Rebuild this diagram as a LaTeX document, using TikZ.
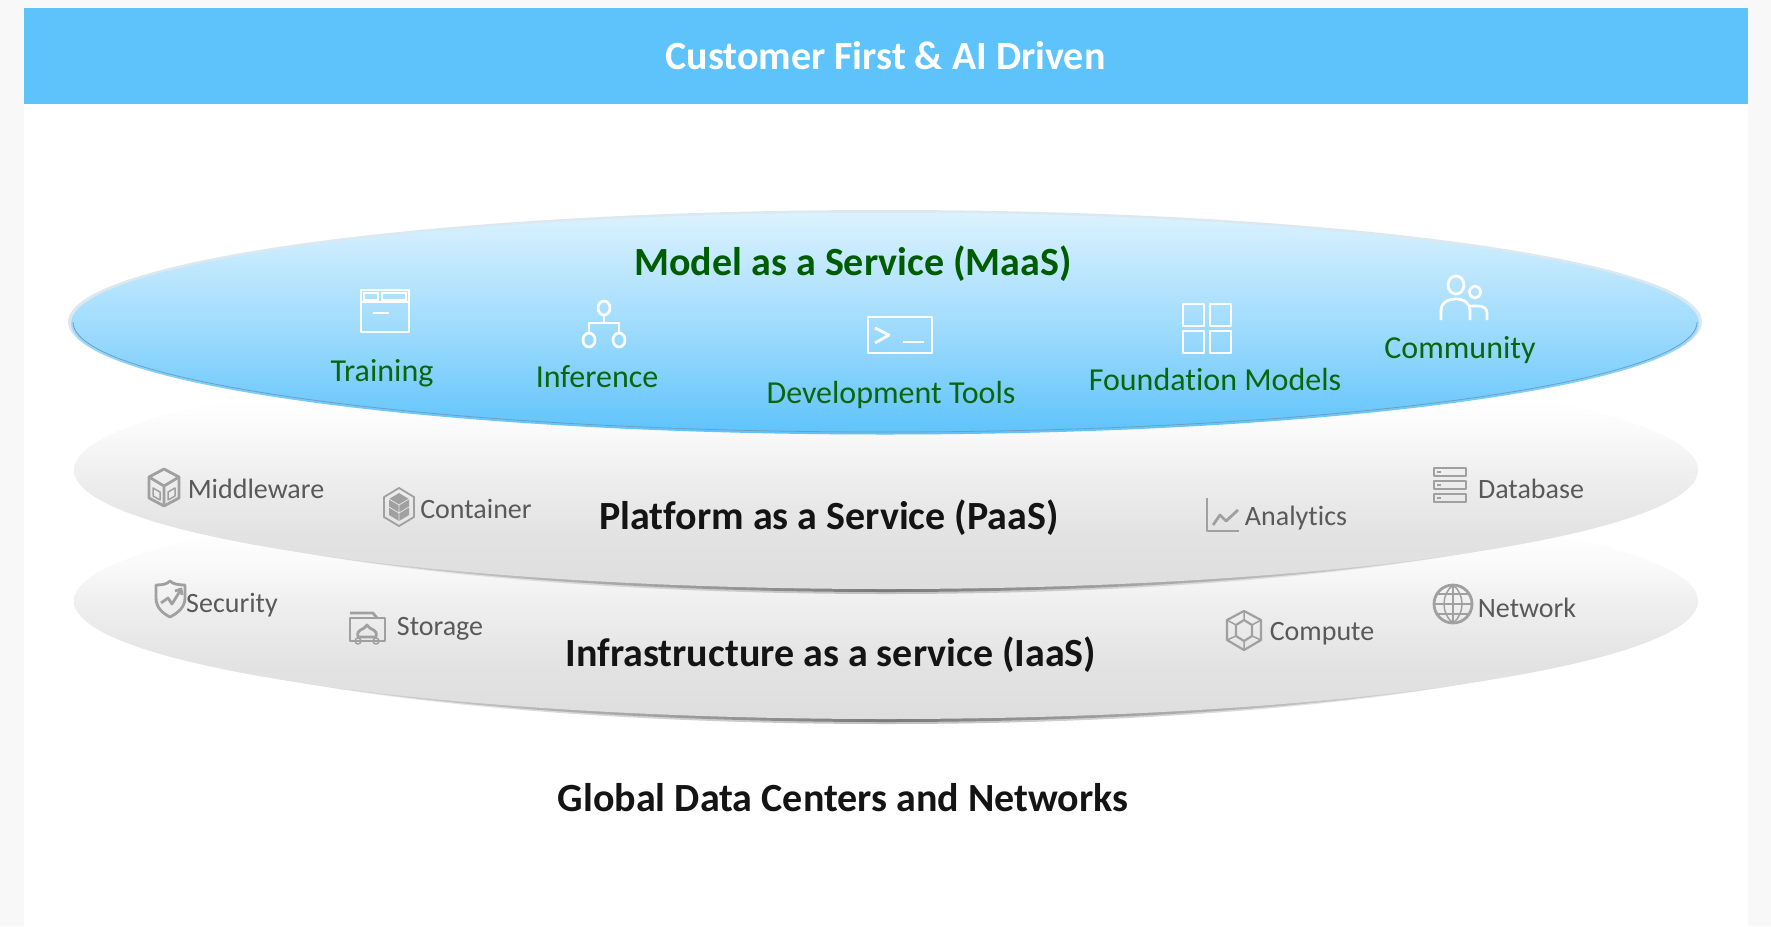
\documentclass[tikz,border=0pt]{standalone}
\usepackage{fontspec}
\setmainfont{Carlito}[Ligatures=CommonOff]
\definecolor{pagegray}{HTML}{F8F8F8}
\definecolor{headblue}{HTML}{5EC3FB}
\definecolor{mgreen}{HTML}{0A660A}
\definecolor{dgreen}{HTML}{005C00}
\definecolor{labgray}{HTML}{595959}
\definecolor{icongray}{HTML}{A0A0A0}
\definecolor{black2}{HTML}{141414}
\definecolor{ringgray}{HTML}{DCE8EF}
\definecolor{rimblue}{HTML}{6F9FBF}
\pgfdeclareverticalshading{discshade}{100bp}{color(0bp)=(white!87!black); color(25bp)=(white!87!black); color(37bp)=(white!89!black); color(50bp)=(white!94!black); color(58bp)=(white!98!black); color(65bp)=(white); color(100bp)=(white)}
\pgfdeclareverticalshading{maasshade}{100bp}{color(0bp)=(headblue); color(25bp)=(headblue); color(50bp)=(white!42!headblue); color(75bp)=(white!78!headblue); color(100bp)=(white!78!headblue)}
\tikzset{
  x=1pt,y=-1pt,
  headtxt/.style={font=\fontsize{40}{44}\selectfont\bfseries,text=white,anchor=mid,inner sep=0pt},
  boldtxt/.style={font=\fontsize{40}{44}\selectfont\bfseries,text=black2,anchor=mid,inner sep=0pt},
  maastxt/.style={font=\fontsize{40}{44}\selectfont\bfseries,text=dgreen,anchor=mid,inner sep=0pt},
  greentxt/.style={font=\fontsize{32}{36}\selectfont,text=mgreen,anchor=mid,inner sep=0pt},
  graytxt/.style={font=\fontsize{28}{32}\selectfont,text=labgray,anchor=mid,inner sep=0pt},
  wicon/.style={draw=white,line width=2.7pt,line join=round},
  gicon/.style={draw=icongray,line width=2.8pt,line join=round},
  gthin/.style={draw=icongray,line width=1.5pt,line join=round},
  crescent/.style={left color=white,right color=white,middle color=black!52},
  softcrescent/.style={left color=white,right color=white,middle color=black!25},
}
\begin{document}
\begin{tikzpicture}
\useasboundingbox (0,0) rectangle (1771,926);
% page
\fill[pagegray] (0,0) rectangle (1771,926);
\fill[white] (24,8) rectangle (1748,926);
\fill[headblue] (24,8) rectangle (1748,104);
\node[headtxt] (title) at (885.5,67) {Customer First \& AI Driven};

% IaaS disc
\shade[softcrescent] (886,606) ellipse [x radius=770pt,y radius=118pt];
\shade[crescent] (886,604) ellipse [x radius=785pt,y radius=118pt];
\shade[shading=discshade] (886,601) ellipse [x radius=812pt,y radius=118pt];
% PaaS disc
\shade[softcrescent] (886,475) ellipse [x radius=770pt,y radius=119pt];
\shade[crescent] (886,473) ellipse [x radius=785pt,y radius=119pt];
\shade[shading=discshade] (886,470) ellipse [x radius=812pt,y radius=119pt];
% MaaS disc
\fill[ringgray] (885,322) ellipse [x radius=817pt,y radius=112pt];
\shade[shading=maasshade] (885,323.5) ellipse [x radius=814pt,y radius=111pt];
\draw[rimblue,line width=.8pt] (73,322) arc [start angle=180,end angle=360,x radius=812pt,y radius=110pt];

\node[maastxt] (maas) at (853,273) {Model as a Service (MaaS)};
\node[boldtxt] (paas) at (829,527) {Platform as a Service (PaaS)};
\node[boldtxt] (iaas) at (831,664) {Infrastructure as a service (IaaS)};
\node[boldtxt] (global) at (843,809) {Global Data Centers and Networks};

\node[greentxt] (training) at (382,379) {Training};
\node[greentxt] (inference) at (597,385) {Inference};
\node[greentxt] (devtools) at (891,401) {Development Tools};
\node[greentxt] (foundation) at (1215,388) {Foundation Models};
\node[greentxt] (community) at (1460,356) {Community};

\node[graytxt] (middleware) at (256,496) {Middleware};
\node[graytxt] (container) at (476,516) {Container};
\node[graytxt] (analytics) at (1296,523) {Analytics};
\node[graytxt] (database) at (1531,496) {Database};
\node[graytxt] (security) at (232,610) {Security};
\node[graytxt] (storage) at (440,633) {Storage};
\node[graytxt] (compute) at (1322,638) {Compute};
\node[graytxt] (network) at (1527,615) {Network};

% white icons
\draw[wicon] (361,290) rectangle (409,332);
\draw[wicon] (361,302) -- (409,302);
\draw[draw=white,line width=1.5pt] (364,293) rectangle (378,300) (382,293) rectangle (406,300);
\draw[wicon] (373,313) -- (389,313);

\draw[wicon] (604,308) ellipse [x radius=6pt,y radius=7pt];
\draw[wicon] (589,340) ellipse [x radius=6pt,y radius=7pt];
\draw[wicon] (619,340) ellipse [x radius=6pt,y radius=7pt];
\draw[wicon] (604,315) -- (604,323) (589,333) -- (589,323) -- (619,323) -- (619,333);

\draw[wicon] (868,317) rectangle (932,353);
\draw[wicon] (875,328) -- (889,335) -- (875,343);
\draw[wicon] (903,342) -- (924,342);

\foreach \ax/\ay in {1183/304,1210/304,1183/331,1210/331}
  \draw[wicon] (\ax,\ay) rectangle ++(21,22);

\draw[wicon] (1456,285) ellipse [x radius=8pt,y radius=9pt];
\draw[wicon] (1475,292) ellipse [x radius=5.5pt,y radius=6pt];
\draw[wicon] (1441,320) -- (1441,311) .. controls (1441,303) and (1447,299) .. (1456,299) .. controls (1465,299) and (1470,304) .. (1470,311) -- (1470,320);
\draw[wicon] (1470,306) -- (1478,306) .. controls (1484,306) and (1487,309) .. (1487,313) -- (1487,320);

% grey icons
% middleware cube
\draw[gicon] (164,469) -- (179,477) -- (179,498) -- (164,506) -- (149,498) -- (149,477) -- cycle;
\draw[gicon] (149,477) -- (164,486) -- (179,477) (164,486) -- (164,506);
\draw[gthin] (153,488) -- (160,492) -- (160,500) -- (153,496) -- cycle (168,492) -- (175,488) -- (175,496) -- (168,500) -- cycle;
% container hexagon
\draw[gicon,line width=1.8pt] (399,488) -- (414,497) -- (414,517) -- (399,526) -- (384,517) -- (384,497) -- cycle;
\fill[icongray] (399,493) -- (409,499) -- (409,515) -- (399,521) -- (389,515) -- (389,499) -- cycle;
\draw[draw=white!90!black,line width=.8pt] (389,499) -- (399,505) -- (409,499) (399,505) -- (399,521) (389,507) -- (399,513) -- (409,507);
% security shield
\draw[gicon] (156,585) .. controls (163,585) and (167,584) .. (170,581) .. controls (173,584) and (178,585) .. (185,585) -- (185,598) .. controls (185,607) and (178,613) .. (170,617) .. controls (162,613) and (156,607) .. (156,598) -- cycle;
\draw[gicon] (161,603) -- (168,598) -- (172,604) -- (180,591);
\draw[gicon] (175,591) -- (181,589) -- (182,595);
% storage folder
\draw[gicon] (350,641) -- (350,618) -- (385,618) -- (385,641) -- cycle;
\draw[gicon] (350,613) -- (373,613) -- (377,618);
\draw[gicon] (358,637) .. controls (356,628) and (364,631) .. (367,625) .. controls (370,631) and (378,628) .. (376,637) -- cycle;
\draw[gthin] (358,641) circle [radius=3pt] (376,641) circle [radius=3pt];
% analytics
\draw[gicon] (1207,498) -- (1207,531) -- (1239,531);
\draw[gicon] (1213,525) -- (1220,515) -- (1226,521) -- (1238,510);
% database
\foreach \dy in {468,481,494}{
  \draw[gicon] (1434,\dy) rectangle (1466,\dy+8);
  \fill[icongray] (1437,\dy+3) rectangle (1441,\dy+5);
}
% compute
\draw[gicon,line width=2.2pt] (1244,611) -- (1261,620) -- (1261,640) -- (1244,650) -- (1227,640) -- (1227,620) -- cycle;
\draw[gicon,line width=2.2pt] (1244,620) -- (1252,625) -- (1252,636) -- (1244,641) -- (1236,636) -- (1236,625) -- cycle;
\draw[gthin] (1244,611) -- (1244,620) (1261,620) -- (1252,625) (1261,640) -- (1252,636) (1244,650) -- (1244,641) (1227,640) -- (1236,636) (1227,620) -- (1236,625);
% network globe
\draw[gicon] (1453,604) circle [radius=19pt];
\draw[gthin] (1453,585) .. controls (1441,594) and (1441,614) .. (1453,623) .. controls (1465,614) and (1465,594) .. (1453,585);
\draw[gthin] (1453,585) -- (1453,623) (1434,604) -- (1472,604) (1437,594) -- (1469,594) (1437,614) -- (1469,614);
\end{tikzpicture}
\end{document}
